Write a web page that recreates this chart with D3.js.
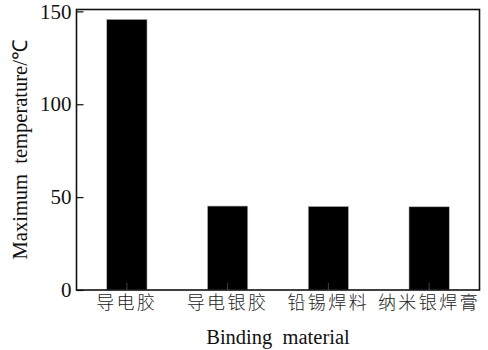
<!DOCTYPE html>
<html><head><meta charset="utf-8">
<script src="https://cdn.jsdelivr.net/npm/d3@7"></script>
<style>body{margin:0;background:#fff}</style>
</head><body>
<svg id="c" width="488" height="350"></svg>
<script>
const categories = ["导电胶","导电银胶","铅锡焊料","纳米银焊膏"];
const values = [145.7, 45.2, 45.0, 44.8];
const yTicks = [0, 50, 100, 150];

const SERIF = '"Liberation Serif"';
const CJK = '"Noto Sans CJK SC"';
const svg = d3.select("#c");
const m = {l:76.5, t:9.5, r:488-479.5, b:350-290};
const W = 488, H = 350;
const x = d3.scaleBand().domain(categories).range([m.l, W-m.r]).paddingInner(0.6).paddingOuter(0.3);
const y = d3.scaleLinear().domain([0, 151]).range([H-m.b, m.t]);

svg.selectAll("rect.bar").data(values).enter().append("rect")
  .attr("class","bar")
  .attr("x",(d,i)=>x(categories[i]))
  .attr("width",x.bandwidth())
  .attr("y",d=>y(d))
  .attr("height",d=>y(0)-y(d))
  .attr("fill","#000").attr("stroke","#bbb").attr("stroke-width",0.6);

svg.append("rect").attr("x",m.l).attr("y",m.t).attr("width",W-m.r-m.l).attr("height",H-m.b-m.t)
  .attr("fill","none").attr("stroke","#111").attr("stroke-width",1.6);

const ya = svg.append("g").attr("transform",`translate(${m.l},0)`)
  .call(d3.axisLeft(y).tickValues(yTicks).tickSizeInner(-7).tickSizeOuter(0).tickPadding(5));
ya.select(".domain").remove();
ya.selectAll("line").attr("stroke","#111").attr("stroke-width",1.2);
ya.selectAll("text").style("font-family",SERIF).style("font-size","21px").attr("fill","#111");

const xa = svg.append("g").attr("transform",`translate(0,${H-m.b})`)
  .call(d3.axisBottom(x).tickSizeInner(-7).tickSizeOuter(0).tickPadding(4));
xa.select(".domain").remove();
xa.selectAll("line").attr("stroke","#555").attr("stroke-width",0.8);
xa.selectAll("text").style("font-family",CJK).style("font-weight","300").style("font-size","18px").style("letter-spacing","2.5px").attr("fill","#222").attr("dy","0.85em");

svg.append("text").attr("x",(m.l+W-m.r)/2).attr("y",344).attr("text-anchor","middle")
  .style("font-family",SERIF).style("font-size","20.5px").attr("fill","#111")
  .style("white-space","pre").text("Binding  material");

svg.append("text").attr("transform",`translate(27,${(m.t+H-m.b)/2}) rotate(-90)`).attr("text-anchor","middle")
  .style("font-family",SERIF).style("font-size","20.5px").attr("fill","#111")
  .style("white-space","pre").text("Maximum  temperature/℃");
</script>
</body></html>
